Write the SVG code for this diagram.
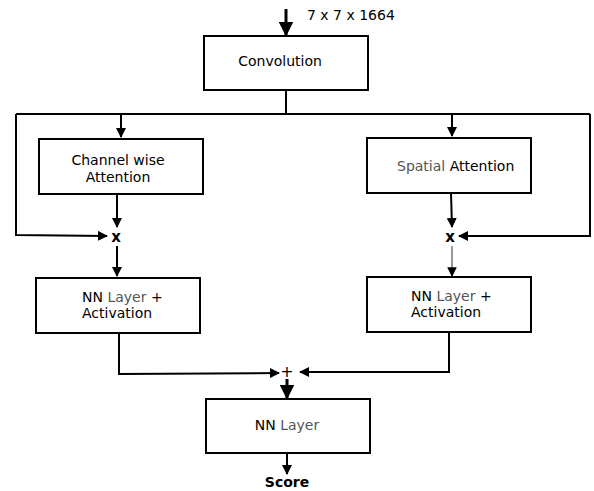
<svg xmlns="http://www.w3.org/2000/svg" width="594" height="491" viewBox="0 0 594 491">
  <style>
    .box { fill: #ffffff; stroke: #000000; stroke-width: 2; }
    .lbl { font-family: "DejaVu Sans", sans-serif; font-size: 14px; fill: #000000; }
    .gray { fill: #555555; }
    .op { font-family: "DejaVu Sans", sans-serif; font-size: 15px; font-weight: bold; fill: #000000; }
    .plus { font-family: "DejaVu Sans", sans-serif; font-size: 16px; fill: #000000; }
    .wire { fill: none; stroke: #000000; stroke-width: 2; }
    .thin { fill: none; stroke: #555555; stroke-width: 1.2; }
  </style>
  <defs>
    <marker id="ah" viewBox="0 0 10 10" refX="9" refY="5" markerWidth="5" markerHeight="5" orient="auto" markerUnits="strokeWidth">
      <path d="M0,0 L10,5 L0,10 z" fill="#000000"/>
    </marker>
    <marker id="ahThin" viewBox="0 0 10 10" refX="9" refY="5" markerWidth="8" markerHeight="8" orient="auto" markerUnits="strokeWidth">
      <path d="M0,0 L10,5 L0,10 z" fill="#000000"/>
    </marker>
  </defs>
  <rect width="594" height="491" fill="#ffffff"/>

  <g id="connectors">
    <!-- input -->
    <line class="wire" x1="286" y1="9" x2="286" y2="35" marker-end="url(#ah)" style="stroke-width:3"/>
    <!-- split bus -->
    <polyline class="wire" points="286,90 286,114"/>
    <polyline class="wire" points="16,114 590,114"/>
    <line class="wire" x1="121" y1="114" x2="121" y2="137" marker-end="url(#ah)"/>
    <line class="wire" x1="452" y1="114" x2="452" y2="136" marker-end="url(#ah)"/>
    <!-- skip paths into multiply -->
    <polyline class="wire" points="16,114 16,235 107,236" marker-end="url(#ah)"/>
    <polyline class="wire" points="590,114 590,236 459,236" marker-end="url(#ah)"/>
    <!-- attention to multiply -->
    <line class="wire" x1="117" y1="194" x2="117" y2="227" marker-end="url(#ah)"/>
    <line class="wire" x1="451" y1="193" x2="452" y2="227" marker-end="url(#ah)"/>
    <!-- multiply to NN layers -->
    <line class="wire" x1="117" y1="246" x2="117" y2="276" marker-end="url(#ah)"/>
    <line class="thin" x1="452" y1="246" x2="452" y2="276" marker-end="url(#ahThin)"/>
    <!-- NN layers to sum -->
    <polyline class="wire" points="119,333 119,374 279,373" marker-end="url(#ah)"/>
    <polyline class="wire" points="449,332 449,372 300,372" marker-end="url(#ah)"/>
    <!-- sum to final layer -->
    <line class="wire" x1="287" y1="379" x2="287" y2="398" marker-end="url(#ah)" style="stroke-width:3"/>
    <line class="wire" x1="287" y1="453" x2="287" y2="474" marker-end="url(#ah)"/>
  </g>

  <text class="lbl" x="307" y="20">7 x 7 x 1664</text>

  <g id="convolution">
    <rect class="box" x="204" y="36" width="164" height="54"/>
    <text class="lbl" x="280" y="66" text-anchor="middle">Convolution</text>
  </g>

  <g id="channel-attention">
    <rect class="box" x="39" y="139" width="164" height="55"/>
    <text class="lbl" x="118" y="165" text-anchor="middle">Channel wise</text>
    <text class="lbl" x="118" y="182" text-anchor="middle">Attention</text>
  </g>

  <g id="spatial-attention">
    <rect class="box" x="367" y="138" width="164" height="55"/>
    <text class="lbl" x="397" y="171"><tspan class="gray">Spatial</tspan> Attention</text>
  </g>

  <g id="mul-left">
    <text class="op" x="116" y="242" text-anchor="middle">x</text>
  </g>
  <g id="mul-right">
    <text class="op" x="450" y="242" text-anchor="middle">x</text>
  </g>

  <g id="nn-left">
    <rect class="box" x="36" y="278" width="164" height="55"/>
    <text class="lbl" x="82" y="302">NN <tspan class="gray">Layer</tspan> +</text>
    <text class="lbl" x="82" y="318">Activation</text>
  </g>

  <g id="nn-right">
    <rect class="box" x="367" y="277" width="164" height="55"/>
    <text class="lbl" x="411" y="301">NN <tspan class="gray">Layer</tspan> +</text>
    <text class="lbl" x="411" y="317">Activation</text>
  </g>

  <g id="sum">
    <text class="plus" x="287" y="377" text-anchor="middle">+</text>
  </g>

  <g id="nn-final">
    <rect class="box" x="206" y="399" width="164" height="54"/>
    <text class="lbl" x="287" y="430" text-anchor="middle">NN <tspan class="gray">Layer</tspan></text>
  </g>

  <g id="score">
    <text class="op" x="287" y="487" text-anchor="middle" style="font-size:14px">Score</text>
  </g>
</svg>
